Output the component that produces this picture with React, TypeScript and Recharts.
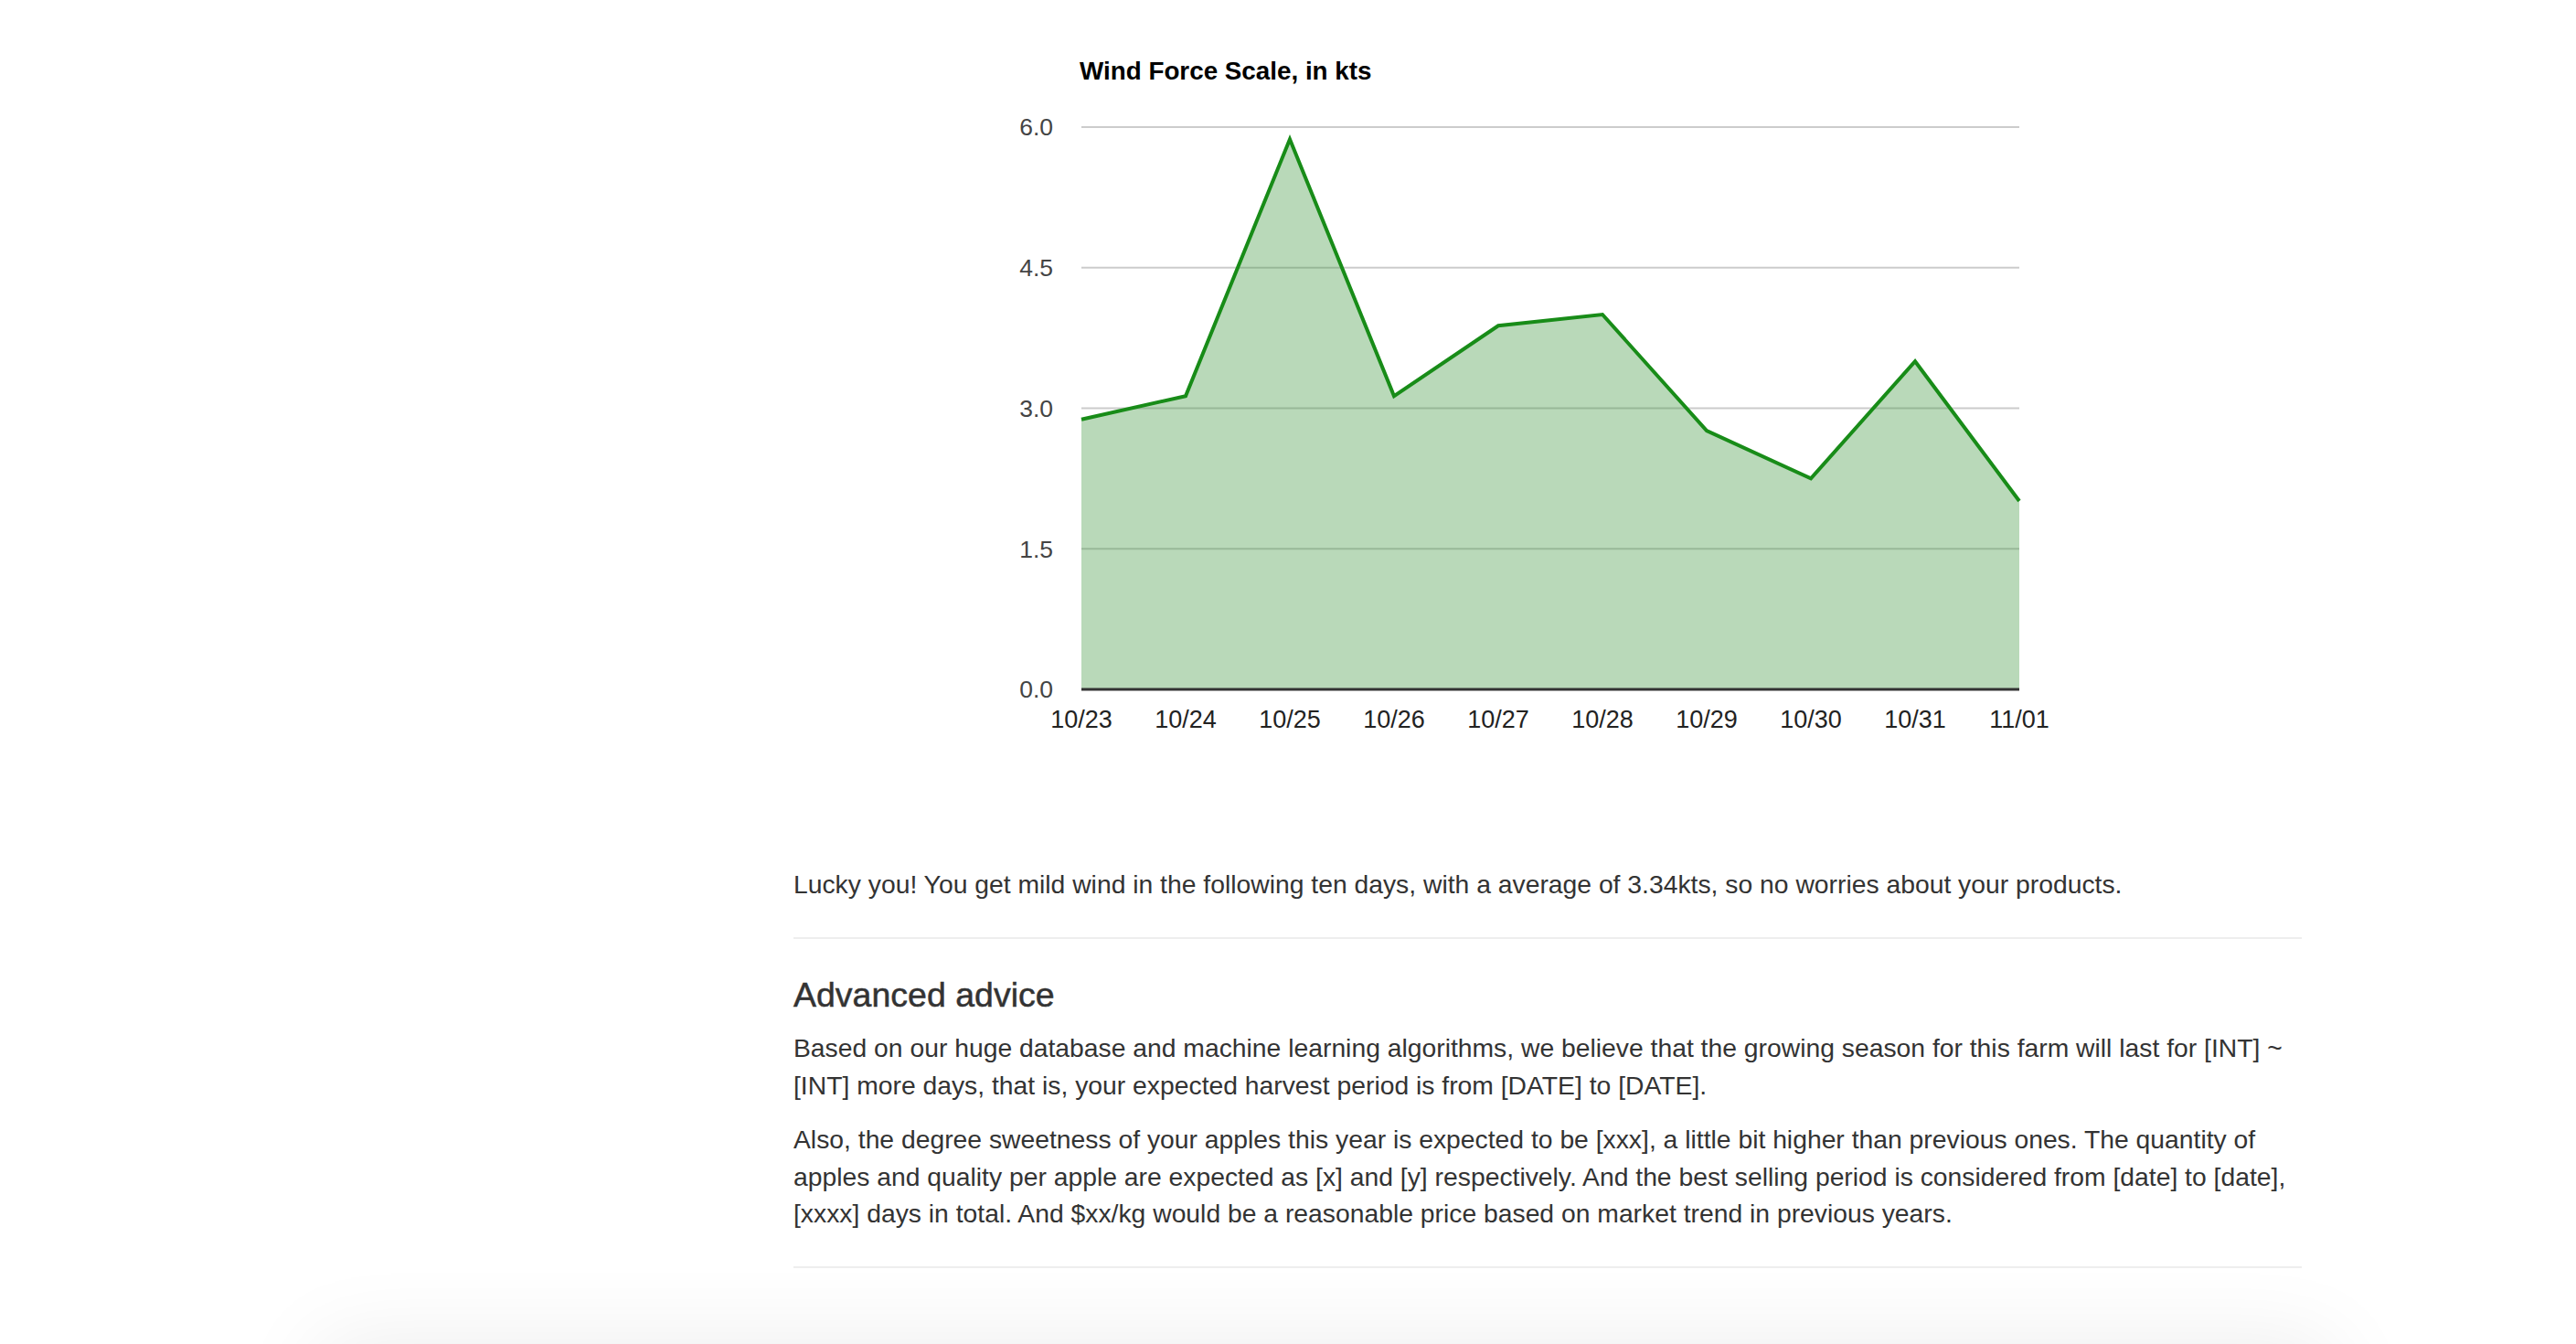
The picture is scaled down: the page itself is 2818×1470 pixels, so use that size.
import React from 'react';
import { AreaChart, Area, XAxis, YAxis, CartesianGrid } from 'recharts';

const dates = ['10/23', '10/24', '10/25', '10/26', '10/27', '10/28', '10/29', '10/30', '10/31', '11/01'];
const windKts = [2.88, 3.13, 5.87, 3.13, 3.88, 4.0, 2.76, 2.25, 3.5, 2.01];
const yTicks = [0, 1.5, 3.0, 4.5, 6.0];

const chartTitle = 'Wind Force Scale, in kts';
const summaryText = 'Lucky you! You get mild wind in the following ten days, with a average of 3.34kts, so no worries about your products.';
const adviceHeading = 'Advanced advice';
const adviceLines1 = [
  'Based on our huge database and machine learning algorithms, we believe that the growing season for this farm will last for [INT] ~',
  '[INT] more days, that is, your expected harvest period is from [DATE] to [DATE].',
];
const adviceLines2 = [
  'Also, the degree sweetness of your apples this year is expected to be [xxx], a little bit higher than previous ones. The quantity of',
  'apples and quality per apple are expected as [x] and [y] respectively. And the best selling period is considered from [date] to [date],',
  '[xxxx] days in total. And $xx/kg would be a reasonable price based on market trend in previous years.',
];

const data = dates.map((d, i) => ({ date: d, wind: windKts[i] }));

const FONT = '"Liberation Sans", Arial, Helvetica, sans-serif';

const textStyle: React.CSSProperties = {
  position: 'absolute',
  left: 868,
  fontFamily: FONT,
  fontSize: 28.3,
  lineHeight: '40.5px',
  color: '#333',
  whiteSpace: 'nowrap',
  margin: 0,
};

export default function App() {
  return (
    <div
      style={{
        position: 'absolute',
        left: 0,
        top: 0,
        width: 2818,
        height: 1470,
        overflow: 'hidden',
        background: '#fff',
      }}
    >
      <div
        style={{
          position: 'absolute',
          left: 1181,
          top: 63,
          fontFamily: FONT,
          fontWeight: 'bold',
          fontSize: 27.8,
          lineHeight: '30px',
          color: '#000',
          whiteSpace: 'nowrap',
        }}
      >
        {chartTitle}
      </div>
      <div style={{ position: 'absolute', left: 1000, top: 0 }}>
        <AreaChart
          width={1300}
          height={850}
          data={data}
          margin={{ top: 139, right: 91, bottom: 36, left: 0 }}
        >
          <CartesianGrid vertical={false} stroke="#cccccc" strokeWidth={2} />
          <Area
            type="linear"
            dataKey="wind"
            stroke="#188c18"
            strokeWidth={4}
            fill="rgb(60,150,60)"
            fillOpacity={0.36}
            dot={false}
            activeDot={false}
            isAnimationActive={false}
          />
          <XAxis
            dataKey="date"
            height={60}
            tickLine={false}
            tickSize={0}
            tickMargin={23}
            axisLine={{ stroke: '#333', strokeWidth: 3 }}
            tick={{ fill: '#222', fontSize: 27, fontFamily: FONT }}
            interval={0}
          />
          <YAxis
            width={183}
            domain={[0, 6]}
            ticks={yTicks}
            tickFormatter={(v: number) => v.toFixed(1)}
            tickLine={false}
            tickSize={0}
            tickMargin={31}
            axisLine={false}
            tick={{ fill: '#444', fontSize: 26.5, fontFamily: FONT }}
          />
        </AreaChart>
      </div>

      <p style={{ ...textStyle, top: 947 }}>{summaryText}</p>
      <div style={{ position: 'absolute', left: 868, top: 1025, width: 1650, height: 2, background: '#eeeeee' }} />
      <div
        style={{
          ...textStyle,
          top: 1068,
          fontSize: 37.5,
          lineHeight: '40px',
          WebkitTextStroke: '0.5px #333',
        }}
      >
        {adviceHeading}
      </div>
      <p style={{ ...textStyle, top: 1126 }}>
        {adviceLines1.map((l, i) => (
          <React.Fragment key={i}>
            {l}
            {i < adviceLines1.length - 1 ? <br /> : null}
          </React.Fragment>
        ))}
      </p>
      <p style={{ ...textStyle, top: 1226 }}>
        {adviceLines2.map((l, i) => (
          <React.Fragment key={i}>
            {l}
            {i < adviceLines2.length - 1 ? <br /> : null}
          </React.Fragment>
        ))}
      </p>
      <div style={{ position: 'absolute', left: 868, top: 1385, width: 1650, height: 2, background: '#eeeeee' }} />
      <div
        style={{
          position: 'absolute',
          left: 370,
          top: 1490,
          width: 2160,
          height: 300,
          background: '#ededed',
          boxShadow: '0 0 90px 20px rgba(0,0,0,0.08)',
        }}
      />
    </div>
  );
}
